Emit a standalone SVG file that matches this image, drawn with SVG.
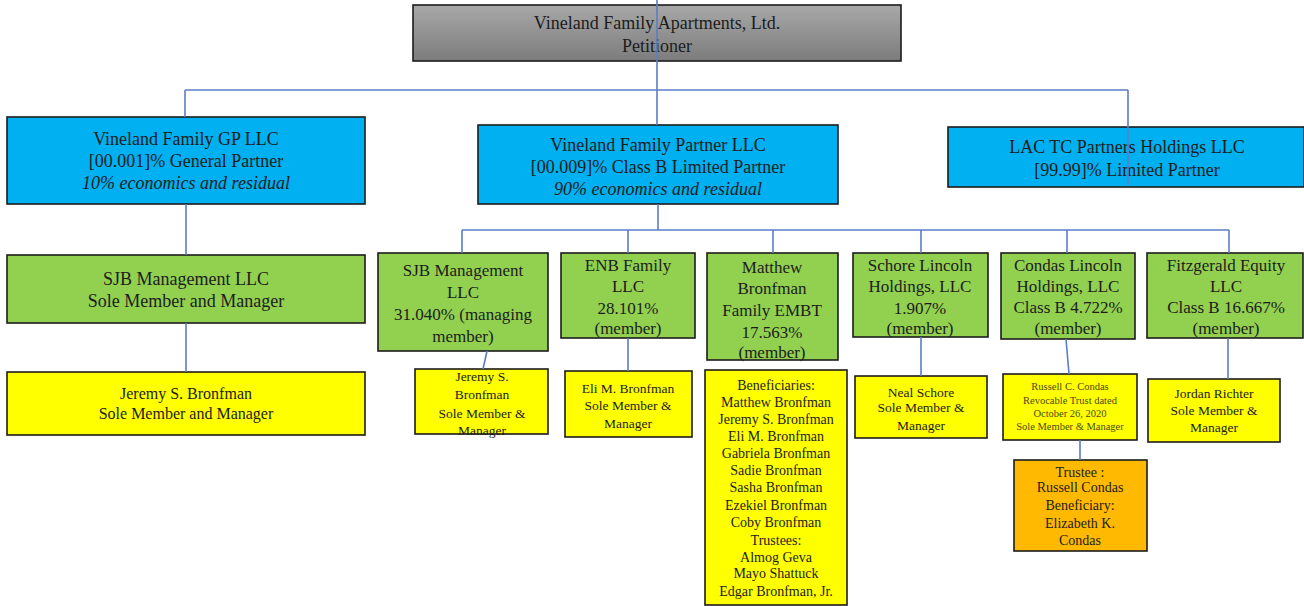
<svg xmlns="http://www.w3.org/2000/svg" width="1304" height="606" viewBox="0 0 1304 606">
<defs>
<linearGradient id="gray" x1="0" y1="0" x2="0" y2="1">
<stop offset="0" stop-color="#a8a8a8"/>
<stop offset="1" stop-color="#7c7c7c"/>
</linearGradient>
<style>
rect{stroke:#1c1c1c;stroke-width:1.6}
.top{fill:url(#gray)}
.blue{fill:#00b0f0}
.green{fill:#92d050}
.yellow{fill:#ffff00}
.orange{fill:#ffb900}
text{font-family:"Liberation Serif","Times New Roman",serif;fill:#1c1c1c;text-anchor:middle}
.f18{font-size:18px}
.f17{font-size:17px}
.f16{font-size:16px}
.f14{font-size:14px}
.f135{font-size:13.5px}
.f105{font-size:10.5px;fill:#4d4a1a}
.it{font-style:italic}
.conn{stroke:#5b7cc6;stroke-width:1.6;fill:none}
</style>
</defs>

<g id="n-petitioner">
<rect class="top" x="413" y="5" width="488" height="56"/>
<text class="f18" x="657" y="29">Vineland Family Apartments, Ltd.</text>
<text class="f18" x="657" y="52">Petitioner</text>
</g>

<g id="n-gp">
<rect class="blue" x="7" y="117" width="358" height="87"/>
<text class="f18" x="186" y="145">Vineland Family GP LLC</text>
<text class="f18" x="186" y="167">[00.001]% General Partner</text>
<text class="f18 it" x="186" y="189">10% economics and residual</text>
</g>

<g id="n-partner">
<rect class="blue" x="478" y="125" width="360" height="79"/>
<text class="f18" x="658" y="151">Vineland Family Partner LLC</text>
<text class="f18" x="658" y="173">[00.009]% Class B Limited Partner</text>
<text class="f18 it" x="658" y="195">90% economics and residual</text>
</g>

<g id="n-lac">
<rect class="blue" x="948" y="127" width="356" height="60"/>
<text class="f18" x="1127" y="153">LAC TC Partners Holdings LLC</text>
<text class="f18" x="1127" y="176">[99.99]% Limited Partner</text>
</g>

<g id="n-sjb1">
<rect class="green" x="7" y="255" width="358" height="68"/>
<text class="f18" x="186" y="285">SJB Management LLC</text>
<text class="f18" x="186" y="307">Sole Member and Manager</text>
</g>

<g id="n-jeremy1">
<rect class="yellow" x="7" y="372" width="358" height="63"/>
<text class="f16" x="186" y="399">Jeremy S. Bronfman</text>
<text class="f16" x="186" y="419">Sole Member and Manager</text>
</g>

<g id="n-sjb2">
<rect class="green" x="378" y="253" width="170" height="98"/>
<text class="f17" x="463" y="276">SJB Management</text>
<text class="f17" x="463" y="298">LLC</text>
<text class="f17" x="463" y="320">31.040% (managing</text>
<text class="f17" x="463" y="342">member)</text>
</g>

<g id="n-jeremy2">
<rect class="yellow" x="415" y="369" width="133" height="65"/>
<text class="f135" x="482" y="381">Jeremy S.</text>
<text class="f135" x="482" y="399">Bronfman</text>
<text class="f135" x="482" y="418">Sole Member &amp;</text>
<text class="f135" x="482" y="435">Manager</text>
</g>

<g id="n-enb">
<rect class="green" x="561" y="253" width="134" height="85"/>
<text class="f17" x="628" y="271">ENB Family</text>
<text class="f17" x="628" y="292">LLC</text>
<text class="f17" x="628" y="314">28.101%</text>
<text class="f17" x="628" y="334">(member)</text>
</g>

<g id="n-eli">
<rect class="yellow" x="565" y="371" width="127" height="66"/>
<text class="f135" x="628" y="393">Eli M. Bronfman</text>
<text class="f135" x="628" y="410">Sole Member &amp;</text>
<text class="f135" x="628" y="428">Manager</text>
</g>

<g id="n-embt">
<rect class="green" x="707" y="253" width="131" height="107"/>
<text class="f17" x="772" y="273">Matthew</text>
<text class="f17" x="772" y="294">Bronfman</text>
<text class="f17" x="772" y="316">Family EMBT</text>
<text class="f17" x="772" y="338">17.563%</text>
<text class="f17" x="772" y="358">(member)</text>
</g>

<g id="n-beneficiaries">
<rect class="yellow" x="705" y="370" width="142" height="235"/>
<text class="f14" x="776" y="390">Beneficiaries:</text>
<text class="f14" x="776" y="407">Matthew Bronfman</text>
<text class="f14" x="776" y="424">Jeremy S. Bronfman</text>
<text class="f14" x="776" y="441">Eli M. Bronfman</text>
<text class="f14" x="776" y="458">Gabriela Bronfman</text>
<text class="f14" x="776" y="475">Sadie Bronfman</text>
<text class="f14" x="776" y="492">Sasha Bronfman</text>
<text class="f14" x="776" y="510">Ezekiel Bronfman</text>
<text class="f14" x="776" y="527">Coby Bronfman</text>
<text class="f14" x="776" y="545">Trustees:</text>
<text class="f14" x="776" y="562">Almog Geva</text>
<text class="f14" x="776" y="578">Mayo Shattuck</text>
<text class="f14" x="776" y="596">Edgar Bronfman, Jr.</text>
</g>

<g id="n-schore">
<rect class="green" x="853" y="253" width="135" height="84"/>
<text class="f17" x="920" y="271">Schore Lincoln</text>
<text class="f17" x="920" y="292">Holdings, LLC</text>
<text class="f17" x="920" y="314">1.907%</text>
<text class="f17" x="920" y="334">(member)</text>
</g>

<g id="n-neal">
<rect class="yellow" x="855" y="376" width="132" height="62"/>
<text class="f135" x="921" y="397">Neal Schore</text>
<text class="f135" x="921" y="412">Sole Member &amp;</text>
<text class="f135" x="921" y="430">Manager</text>
</g>

<g id="n-condas">
<rect class="green" x="1001" y="253" width="134" height="86"/>
<text class="f17" x="1068" y="271">Condas Lincoln</text>
<text class="f17" x="1068" y="292">Holdings, LLC</text>
<text class="f17" x="1068" y="313">Class B 4.722%</text>
<text class="f17" x="1068" y="334">(member)</text>
</g>

<g id="n-russell">
<rect class="yellow" x="1003" y="374" width="134" height="66"/>
<text class="f105" x="1070" y="390">Russell C. Condas</text>
<text class="f105" x="1070" y="404">Revocable Trust dated</text>
<text class="f105" x="1070" y="417">October 26, 2020</text>
<text class="f105" x="1070" y="430">Sole Member &amp; Manager</text>
</g>

<g id="n-trustee">
<rect class="orange" x="1014" y="460" width="133" height="91"/>
<text class="f14" x="1080" y="477">Trustee :</text>
<text class="f14" x="1080" y="492">Russell Condas</text>
<text class="f14" x="1080" y="510">Beneficiary:</text>
<text class="f14" x="1080" y="528">Elizabeth K.</text>
<text class="f14" x="1080" y="545">Condas</text>
</g>

<g id="n-fitzgerald">
<rect class="green" x="1147" y="253" width="156" height="85"/>
<text class="f17" x="1226" y="271">Fitzgerald Equity</text>
<text class="f17" x="1226" y="292">LLC</text>
<text class="f17" x="1226" y="313">Class B 16.667%</text>
<text class="f17" x="1226" y="334">(member)</text>
</g>

<g id="n-jordan">
<rect class="yellow" x="1148" y="379" width="132" height="63"/>
<text class="f135" x="1214" y="398">Jordan Richter</text>
<text class="f135" x="1214" y="415">Sole Member &amp;</text>
<text class="f135" x="1214" y="432">Manager</text>
</g>

<g id="connectors" class="conn">
<path class="conn" d="M657 0 V125"/>
<path class="conn" d="M185 90 H1128"/>
<path class="conn" d="M185 90 V117"/>
<path class="conn" d="M1128 90 V185"/>
<path class="conn" d="M186 204 V255"/>
<path class="conn" d="M186 323 V372"/>
<path class="conn" d="M658 204 V230"/>
<path class="conn" d="M462 230 H1229"/>
<path class="conn" d="M462 230 V253"/>
<path class="conn" d="M628 230 V253"/>
<path class="conn" d="M773 230 V253"/>
<path class="conn" d="M921 230 V253"/>
<path class="conn" d="M1067 230 V253"/>
<path class="conn" d="M1229 230 V253"/>
<path class="conn" d="M487 351 L483 369"/>
<path class="conn" d="M628 338 V371"/>
<path class="conn" d="M921 337 V376"/>
<path class="conn" d="M1066 339 L1069 374"/>
<path class="conn" d="M1080 440 V460"/>
<path class="conn" d="M1228 338 V379"/>
</g>
</svg>
